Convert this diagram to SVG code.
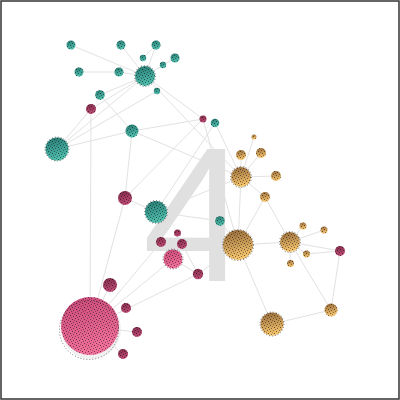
<svg xmlns="http://www.w3.org/2000/svg" width="400" height="400" viewBox="0 0 400 400">
<defs>
<linearGradient id="gT" x1="0" y1="0" x2="0.3" y2="1"><stop offset="0" stop-color="#267870"/><stop offset="1" stop-color="#4fbcac"/></linearGradient>
<linearGradient id="gP" x1="0" y1="0" x2="0.3" y2="1"><stop offset="0" stop-color="#7e2a48"/><stop offset="1" stop-color="#bc4a74"/></linearGradient>
<linearGradient id="gPB" x1="0" y1="0" x2="0.3" y2="1"><stop offset="0" stop-color="#c84878"/><stop offset="1" stop-color="#f0709a"/></linearGradient>
<linearGradient id="gO" x1="0" y1="0" x2="0.2" y2="1"><stop offset="0" stop-color="#94683a"/><stop offset="1" stop-color="#f4c46e"/></linearGradient>
<pattern id="dots" width="6" height="6" patternUnits="userSpaceOnUse"><rect x="0" y="1" width="1" height="1" fill="#000" opacity="0.5"/><rect x="3" y="0" width="1" height="1" fill="#000" opacity="0.4"/><rect x="4" y="3" width="1" height="1" fill="#000" opacity="0.55"/><rect x="1" y="4" width="1" height="1" fill="#000" opacity="0.45"/><rect x="2" y="2" width="1" height="1" fill="#000" opacity="0.3"/><rect x="5" y="5" width="1" height="1" fill="#000" opacity="0.35"/></pattern>
</defs>
<style>
.e line{stroke:#e2e2e2;stroke-width:1;fill:none}
.st{fill:url(#dots)}
.ring{fill:none;stroke:#333;stroke-width:1;stroke-dasharray:0.8 2.2;opacity:0.8}
.t{fill:url(#gT)}
.p{fill:url(#gP)}
.pb{fill:url(#gPB)}
.o{fill:url(#gO)}
.big4{font-family:"Liberation Sans",Arial,sans-serif;font-size:192px;fill:#e0e0e0}
</style>
<rect x="1" y="1" width="398" height="398" fill="#fff" stroke="#333" stroke-width="1.5"/>
<text class="big4" x="196" y="281" text-anchor="middle">4</text>
<g id="edges" class="e">
<line x1="71" y1="45" x2="145" y2="76"/>
<line x1="121" y1="45" x2="145" y2="76"/>
<line x1="156" y1="45" x2="145" y2="76"/>
<line x1="143" y1="58" x2="156" y2="45"/>
<line x1="145" y1="76" x2="163" y2="65"/>
<line x1="163" y1="65" x2="175" y2="58"/>
<line x1="79" y1="72" x2="119" y2="72"/>
<line x1="119" y1="72" x2="145" y2="76"/>
<line x1="100" y1="95" x2="145" y2="76"/>
<line x1="100" y1="95" x2="132" y2="131"/>
<line x1="57" y1="149" x2="91" y2="109"/>
<line x1="57" y1="149" x2="145" y2="76"/>
<line x1="57" y1="149" x2="157" y2="91"/>
<line x1="57" y1="149" x2="132" y2="131"/>
<line x1="91" y1="109" x2="145" y2="76"/>
<line x1="91" y1="109" x2="90" y2="327"/>
<line x1="145" y1="76" x2="203" y2="119"/>
<line x1="145" y1="76" x2="241" y2="177"/>
<line x1="132" y1="131" x2="203" y2="119"/>
<line x1="132" y1="131" x2="241" y2="177"/>
<line x1="132" y1="131" x2="125" y2="198"/>
<line x1="125" y1="198" x2="203" y2="119"/>
<line x1="125" y1="198" x2="156" y2="212"/>
<line x1="125" y1="198" x2="90" y2="327"/>
<line x1="215" y1="123" x2="241" y2="177"/>
<line x1="215" y1="123" x2="156" y2="212"/>
<line x1="203" y1="119" x2="238" y2="245"/>
<line x1="156" y1="212" x2="220" y2="221"/>
<line x1="156" y1="212" x2="241" y2="177"/>
<line x1="156" y1="212" x2="161" y2="242"/>
<line x1="178" y1="233" x2="173" y2="259"/>
<line x1="182" y1="244" x2="238" y2="245"/>
<line x1="182" y1="244" x2="198" y2="274"/>
<line x1="173" y1="259" x2="198" y2="274"/>
<line x1="173" y1="259" x2="90" y2="327"/>
<line x1="161" y1="242" x2="90" y2="327"/>
<line x1="90" y1="327" x2="198" y2="274"/>
<line x1="90" y1="327" x2="110" y2="285"/>
<line x1="90" y1="327" x2="137" y2="332"/>
<line x1="90" y1="327" x2="123" y2="354"/>
<line x1="198" y1="274" x2="238" y2="245"/>
<line x1="220" y1="221" x2="238" y2="245"/>
<line x1="254" y1="137" x2="241" y2="177"/>
<line x1="241" y1="155" x2="241" y2="177"/>
<line x1="261" y1="153" x2="241" y2="177"/>
<line x1="276" y1="176" x2="241" y2="177"/>
<line x1="241" y1="177" x2="265" y2="197"/>
<line x1="241" y1="177" x2="238" y2="245"/>
<line x1="265" y1="197" x2="238" y2="245"/>
<line x1="265" y1="197" x2="290" y2="242"/>
<line x1="238" y1="245" x2="290" y2="242"/>
<line x1="238" y1="245" x2="272" y2="324"/>
<line x1="290" y1="242" x2="303" y2="226"/>
<line x1="290" y1="242" x2="324" y2="230"/>
<line x1="290" y1="242" x2="306" y2="254"/>
<line x1="290" y1="242" x2="290" y2="263"/>
<line x1="290" y1="242" x2="340" y2="251"/>
<line x1="306" y1="254" x2="340" y2="251"/>
<line x1="290" y1="242" x2="331" y2="310"/>
<line x1="340" y1="251" x2="331" y2="310"/>
<line x1="331" y1="310" x2="272" y2="324"/>
</g>
<g id="n-t1"><circle class="t" cx="71" cy="45" r="4.5"/><circle class="st" cx="71" cy="45" r="4.5"/></g>
<g id="n-t2"><circle class="t" cx="121" cy="45" r="4.5"/><circle class="st" cx="121" cy="45" r="4.5"/></g>
<g id="n-t3"><circle class="t" cx="156" cy="45" r="4.5"/><circle class="st" cx="156" cy="45" r="4.5"/></g>
<g id="n-t4"><circle class="t" cx="143" cy="58" r="3.2"/><circle class="st" cx="143" cy="58" r="3.2"/></g>
<g id="n-t5"><circle class="t" cx="175" cy="58" r="4.5"/><circle class="st" cx="175" cy="58" r="4.5"/></g>
<g id="n-t6"><circle class="t" cx="163" cy="65" r="3.2"/><circle class="st" cx="163" cy="65" r="3.2"/></g>
<g id="n-t7"><circle class="t" cx="79" cy="72" r="4.5"/><circle class="st" cx="79" cy="72" r="4.5"/></g>
<g id="n-t8"><circle class="t" cx="119" cy="72" r="4.5"/><circle class="st" cx="119" cy="72" r="4.5"/></g>
<g id="n-t9"><circle class="t" cx="145" cy="76" r="10"/><circle class="st" cx="145" cy="76" r="10"/><circle class="ring" cx="145" cy="76" r="10.5"/></g>
<g id="n-t10"><circle class="t" cx="157" cy="91" r="3.2"/><circle class="st" cx="157" cy="91" r="3.2"/></g>
<g id="n-t11"><circle class="t" cx="100" cy="95" r="4.8"/><circle class="st" cx="100" cy="95" r="4.8"/></g>
<g id="n-t12"><circle class="t" cx="132" cy="131" r="6.5"/><circle class="st" cx="132" cy="131" r="6.5"/></g>
<g id="n-t13"><circle class="t" cx="57" cy="149" r="11.5"/><circle class="st" cx="57" cy="149" r="11.5"/><circle class="ring" cx="57" cy="149" r="12"/></g>
<g id="n-t14"><circle class="t" cx="156" cy="212" r="11"/><circle class="st" cx="156" cy="212" r="11"/><circle class="ring" cx="156" cy="212" r="11.5"/></g>
<g id="n-t15"><circle class="t" cx="215" cy="123" r="4.3"/><circle class="st" cx="215" cy="123" r="4.3"/></g>
<g id="n-t16"><circle class="t" cx="220" cy="221" r="4.8"/><circle class="st" cx="220" cy="221" r="4.8"/></g>
<g id="n-p1"><circle class="p" cx="91" cy="109" r="5"/><circle class="st" cx="91" cy="109" r="5"/></g>
<g id="n-p2"><circle class="p" cx="203" cy="119" r="3.5"/><circle class="st" cx="203" cy="119" r="3.5"/></g>
<g id="n-p3"><circle class="p" cx="125" cy="198" r="7"/><circle class="st" cx="125" cy="198" r="7"/></g>
<g id="n-p4"><circle class="p" cx="161" cy="242" r="5"/><circle class="st" cx="161" cy="242" r="5"/></g>
<g id="n-p5"><circle class="p" cx="177.5" cy="233" r="3.5"/><circle class="st" cx="177.5" cy="233" r="3.5"/></g>
<g id="n-p6"><circle class="p" cx="182" cy="244" r="5"/><circle class="st" cx="182" cy="244" r="5"/></g>
<g id="n-p7"><circle class="pb" cx="173" cy="259" r="9.5"/><circle class="st" cx="173" cy="259" r="9.5"/><circle class="ring" cx="173" cy="259" r="10"/></g>
<g id="n-p8"><circle class="p" cx="198" cy="274" r="5.2"/><circle class="st" cx="198" cy="274" r="5.2"/></g>
<g id="n-p9"><circle class="p" cx="110" cy="285" r="7"/><circle class="st" cx="110" cy="285" r="7"/></g>
<g id="n-p10"><circle class="p" cx="126" cy="308" r="5"/><circle class="st" cx="126" cy="308" r="5"/></g>
<g id="n-p11"><circle class="p" cx="137" cy="332" r="5"/><circle class="st" cx="137" cy="332" r="5"/></g>
<g id="n-p12"><circle class="p" cx="123" cy="354" r="5"/><circle class="st" cx="123" cy="354" r="5"/></g>
<g id="n-p13"><circle cx="91" cy="329" r="30" fill="#e6e6e6" opacity="0.6"/><circle class="pb" cx="90" cy="326" r="29"/><circle class="st" cx="90" cy="326" r="29"/><circle class="ring" cx="89" cy="330" r="29.5"/></g>
<g id="n-p14"><circle class="p" cx="340" cy="251" r="5"/><circle class="st" cx="340" cy="251" r="5"/></g>
<g id="n-o1"><circle class="o" cx="254" cy="137" r="2.5"/><circle class="st" cx="254" cy="137" r="2.5"/></g>
<g id="n-o2"><circle class="o" cx="241" cy="155" r="5"/><circle class="st" cx="241" cy="155" r="5"/></g>
<g id="n-o3"><circle class="o" cx="261" cy="153" r="5"/><circle class="st" cx="261" cy="153" r="5"/></g>
<g id="n-o4"><circle class="o" cx="241" cy="177" r="10"/><circle class="st" cx="241" cy="177" r="10"/><circle class="ring" cx="241" cy="177" r="10.5"/></g>
<g id="n-o5"><circle class="o" cx="276" cy="176" r="5"/><circle class="st" cx="276" cy="176" r="5"/></g>
<g id="n-o6"><circle class="o" cx="265" cy="197" r="5"/><circle class="st" cx="265" cy="197" r="5"/></g>
<g id="n-o7"><circle class="o" cx="238" cy="245" r="15"/><circle class="st" cx="238" cy="245" r="15"/><circle class="ring" cx="238" cy="245" r="15.5"/></g>
<g id="n-o8"><circle class="o" cx="303" cy="226" r="3.5"/><circle class="st" cx="303" cy="226" r="3.5"/></g>
<g id="n-o9"><circle class="o" cx="324" cy="230" r="3.5"/><circle class="st" cx="324" cy="230" r="3.5"/></g>
<g id="n-o10"><circle class="o" cx="290" cy="242" r="10"/><circle class="st" cx="290" cy="242" r="10"/><circle class="ring" cx="290" cy="242" r="10.5"/></g>
<g id="n-o11"><circle class="o" cx="306.5" cy="254" r="3.5"/><circle class="st" cx="306.5" cy="254" r="3.5"/></g>
<g id="n-o12"><circle class="o" cx="290.5" cy="263.5" r="3.5"/><circle class="st" cx="290.5" cy="263.5" r="3.5"/></g>
<g id="n-o13"><circle class="o" cx="331" cy="310" r="6.5"/><circle class="st" cx="331" cy="310" r="6.5"/></g>
<g id="n-o14"><circle class="o" cx="272" cy="324" r="11.5"/><circle class="st" cx="272" cy="324" r="11.5"/><circle class="ring" cx="272" cy="324" r="12"/></g>
</svg>
